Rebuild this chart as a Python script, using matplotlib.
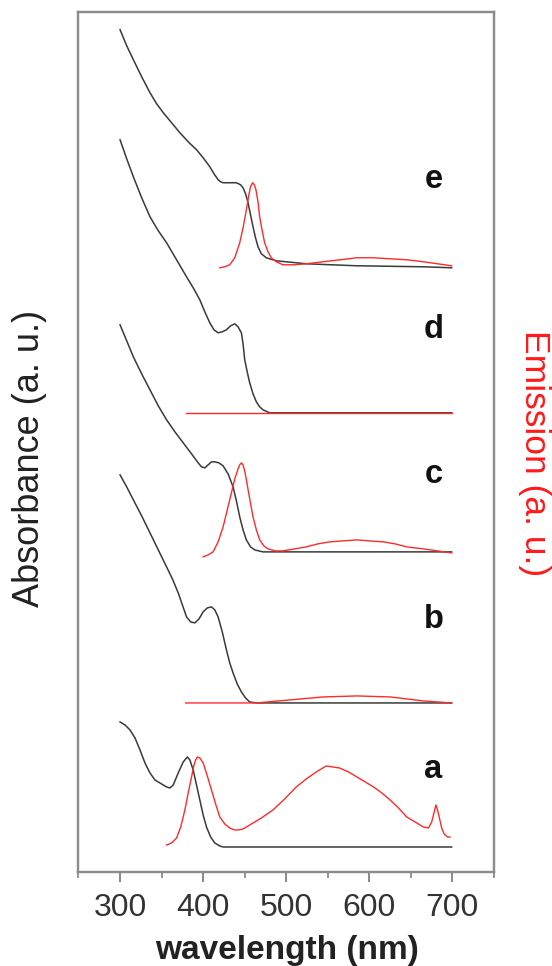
import matplotlib
matplotlib.use("Agg")
import matplotlib.pyplot as plt
from matplotlib.ticker import MultipleLocator, NullLocator

plt.rcParams['font.family'] = ['Liberation Sans', 'DejaVu Sans']

# ---------------- data (wavelength in nm, arbitrary stacked units) ----------------
a_abs_x = [300, 306, 312, 318, 324, 330, 336, 342, 348, 356, 360, 364, 370, 376, 381, 384,
           388, 392, 396, 400, 404, 409, 414, 420, 424, 699]
a_abs_y = [1.50, 1.47, 1.42, 1.34, 1.22, 1.09, 0.99, 0.92, 0.89, 0.85, 0.84, 0.87, 0.99, 1.10,
           1.15, 1.12, 1.02, 0.87, 0.72, 0.57, 0.45, 0.35, 0.29, 0.26, 0.25, 0.25]
a_em_x = [356, 362, 368, 373, 378, 382, 386, 389, 391, 393, 396, 400, 405, 410, 415, 420, 426,
          432, 438, 442, 448, 456, 470, 484, 498, 512, 524, 536, 548, 556, 564, 575, 585, 595,
          605, 615, 625, 635, 645, 655, 665, 671, 675, 678, 680, 682, 684, 687, 690, 694, 697]
a_em_y = [0.27, 0.29, 0.34, 0.45, 0.62, 0.79, 0.95, 1.07, 1.12, 1.15, 1.14, 1.09, 0.96, 0.82,
          0.68, 0.55, 0.48, 0.44, 0.42, 0.42, 0.43, 0.47, 0.54, 0.62, 0.73, 0.85, 0.93, 1.00,
          1.06, 1.05, 1.04, 1.00, 0.95, 0.90, 0.85, 0.79, 0.72, 0.64, 0.55, 0.50, 0.45, 0.44,
          0.50, 0.60, 0.67, 0.62, 0.55, 0.44, 0.38, 0.35, 0.35]

b_abs_x = [300, 308, 316, 326, 336, 346, 356, 363, 370, 375, 380, 385, 390, 395, 400, 405, 410,
           414, 418, 423, 428, 432, 436, 441, 446, 451, 456, 464, 699]
b_abs_y = [3.97, 3.85, 3.72, 3.56, 3.39, 3.22, 3.05, 2.93, 2.79, 2.67, 2.55, 2.50, 2.49, 2.53,
           2.60, 2.64, 2.65, 2.62, 2.55, 2.40, 2.22, 2.09, 1.99, 1.88, 1.80, 1.74, 1.70, 1.69, 1.69]
b_em_x = [379, 464, 504, 544, 585, 625, 665, 699]
b_em_y = [1.69, 1.69, 1.72, 1.75, 1.76, 1.75, 1.71, 1.69]

c_abs_x = [300, 308, 316, 326, 336, 346, 356, 366, 376, 386, 394, 398, 402, 406, 410, 414, 419,
           424, 430, 436, 440, 444, 448, 452, 457, 462, 472, 699]
c_abs_y = [5.47, 5.31, 5.15, 4.98, 4.82, 4.66, 4.52, 4.40, 4.29, 4.18, 4.09, 4.05, 4.04, 4.07,
           4.10, 4.10, 4.09, 4.06, 3.98, 3.85, 3.71, 3.55, 3.42, 3.32, 3.25, 3.22, 3.20, 3.20]
c_em_x = [400, 406, 412, 418, 424, 429, 434, 438, 442, 444, 446, 448, 450, 452, 456, 460, 464,
          468, 473, 478, 487, 496, 510, 524, 538, 552, 568, 585, 600, 617, 631, 645, 655, 665,
          682, 699]
c_em_y = [3.15, 3.17, 3.20, 3.30, 3.45, 3.62, 3.79, 3.93, 4.03, 4.07, 4.09, 4.07, 4.01, 3.92,
          3.73, 3.55, 3.42, 3.32, 3.26, 3.23, 3.21, 3.21, 3.23, 3.25, 3.28, 3.30, 3.31, 3.32,
          3.31, 3.30, 3.28, 3.25, 3.24, 3.23, 3.21, 3.19]

d_abs_x = [300, 308, 316, 326, 336, 346, 356, 368, 380, 388, 396, 402, 408, 413, 418, 423, 428,
           433, 438, 442, 446, 448, 450, 453, 456, 460, 464, 468, 472, 480, 699]
d_abs_y = [7.32, 7.13, 6.95, 6.74, 6.55, 6.41, 6.29, 6.12, 5.95, 5.84, 5.72, 5.60, 5.49, 5.42,
           5.39, 5.40, 5.42, 5.46, 5.48, 5.45, 5.39, 5.28, 5.12, 5.00, 4.89, 4.78, 4.70, 4.65,
           4.62, 4.59, 4.59]
d_em_x = [379, 500, 600, 699]
d_em_y = [4.59, 4.59, 4.59, 4.59]

e_abs_x = [300, 308, 316, 326, 336, 344, 352, 362, 372, 382, 392, 400, 408, 413, 418, 421, 424,
           432, 440, 445, 448, 451, 454, 457, 460, 463, 466, 470, 476, 488, 524, 585, 665, 699]
e_abs_y = [8.42, 8.26, 8.12, 7.95, 7.79, 7.68, 7.59, 7.49, 7.39, 7.30, 7.22, 7.14, 7.05, 6.98,
           6.92, 6.90, 6.89, 6.89, 6.89, 6.87, 6.84, 6.78, 6.69, 6.57, 6.45, 6.34, 6.25, 6.18,
           6.14, 6.11, 6.08, 6.06, 6.05, 6.04]
e_em_x = [420, 426, 432, 438, 444, 448, 452, 455, 457, 459.5, 461.5, 463.5, 466, 468, 471, 474,
          478, 482, 488, 496, 510, 524, 544, 565, 585, 605, 625, 645, 665, 682, 699]
e_em_y = [6.04, 6.05, 6.07, 6.14, 6.29, 6.44, 6.62, 6.77, 6.85, 6.89, 6.87, 6.82, 6.70, 6.55,
          6.41, 6.29, 6.20, 6.14, 6.10, 6.07, 6.07, 6.08, 6.10, 6.12, 6.14, 6.14, 6.13, 6.12,
          6.10, 6.08, 6.06]

labels = ['a', 'b', 'c', 'd', 'e']
label_y = [1.02, 2.52, 3.97, 5.42, 6.92]
label_x = 677

xticks = [300, 400, 500, 600, 700]

# ---------------- figure ----------------
fig = plt.figure(figsize=(5.52, 9.66), dpi=100)
ax = fig.add_axes([0.1422, 0.0973, 0.7528, 0.8906])
ax2 = ax.twinx()

black = '#3a3a3a'
red = '#ff2a2a'
abs_sets = [(a_abs_x, a_abs_y), (b_abs_x, b_abs_y), (c_abs_x, c_abs_y),
            (d_abs_x, d_abs_y), (e_abs_x, e_abs_y)]
em_sets = [(a_em_x, a_em_y), (b_em_x, b_em_y), (c_em_x, c_em_y),
           (d_em_x, d_em_y), (e_em_x, e_em_y)]
for x, y in abs_sets:
    ax.plot(x, y, color=black, lw=1.1, solid_joinstyle='round')
for x, y in em_sets:
    ax2.plot(x, y, color=red, lw=1.0, solid_joinstyle='round')

for lab, ly in zip(labels, label_y):
    ax.text(label_x, ly, lab, fontsize=23.5, fontweight='bold', color='#111111',
            ha='center', va='center')

for a in (ax, ax2):
    a.set_xlim(250, 750)
    a.set_ylim(0, 8.60)
    a.yaxis.set_major_locator(NullLocator())
    for s in a.spines.values():
        s.set_color('#8c8c8c')
        s.set_linewidth(1.6)

ax.set_xticks(xticks)
ax.xaxis.set_minor_locator(MultipleLocator(50))
ax.tick_params(axis='x', which='major', direction='out', length=7, width=1.5,
               color='#8c8c8c', labelsize=23, labelcolor='#333333', pad=8)
ax.tick_params(axis='x', which='minor', direction='out', length=4, width=1.3,
               color='#8c8c8c')
ax.tick_params(axis='y', left=False, right=False, labelleft=False)
ax2.tick_params(axis='y', left=False, right=False, labelright=False)

fig.text(287 / 552, 1 - 950 / 966, 'wavelength (nm)', fontsize=24, fontweight='bold',
         color='#222222', ha='center', va='center')
fig.text(30 / 552, 1 - 458 / 966, 'Absorbance (a. u.)', fontsize=26, rotation=90,
         color='#222222', ha='center', va='center')
fig.text(535 / 552, 1 - 453 / 966, 'Emission (a. u.)', fontsize=25.5, rotation=270,
         color='#ff1a1a', ha='center', va='center')

fig.savefig('out.png', dpi=100)
